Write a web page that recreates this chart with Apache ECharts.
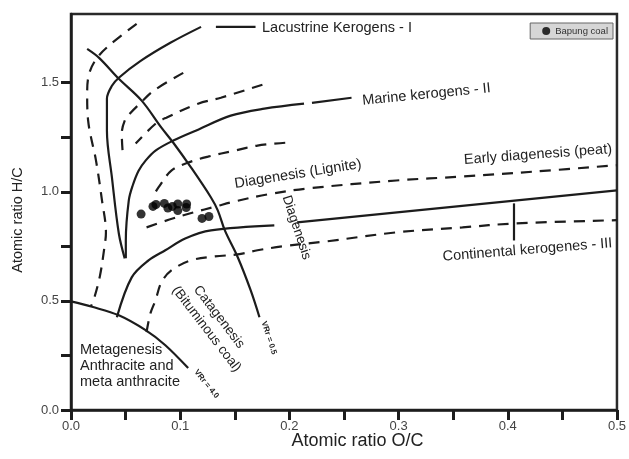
<!DOCTYPE html>
<html>
<head>
<meta charset="utf-8">
<script src="https://cdn.jsdelivr.net/npm/echarts@6/dist/echarts.min.js"></script>
<style>html,body{margin:0;padding:0;background:#fff}#c{width:629px;height:459px}</style>
</head>
<body>
<div id="c"></div>
<script>
// ---- tick values ----
const xTickValues = [0, 0.05, 0.1, 0.15, 0.2, 0.25, 0.3, 0.35, 0.4, 0.45, 0.5];
const xLabelValues = [0, 0.1, 0.2, 0.3, 0.4, 0.5];
const yTickValues = [0, 0.25, 0.5, 0.75, 1.0, 1.25, 1.5];
const yLabelValues = [0, 0.5, 1.0, 1.5];

// ---- Bapung coal samples (O/C, H/C) ----
const bapungOC = [0.0642, 0.0751, 0.0778, 0.0855, 0.0887, 0.0928, 0.0978, 0.0978, 0.1059, 0.1055, 0.1200, 0.1263];
const bapungHC = [0.898, 0.933, 0.942, 0.947, 0.926, 0.933, 0.944, 0.914, 0.944, 0.928, 0.878, 0.887];

// ---- evolution paths (solid) ----
const typeI = [[0.0492,0.695],[0.0438,0.809],[0.0375,1.065],[0.0329,1.280],[0.0329,1.372],[0.0329,1.427],[0.0375,1.486],[0.0438,1.523],[0.0638,1.600],[0.0910,1.683],[0.1191,1.756]];
const typeILeader = [[0.1327,1.756],[0.1690,1.756]];
const typeII = [[0.0502,0.695],[0.0502,0.777],[0.0529,0.960],[0.0565,1.029],[0.0619,1.097],[0.0683,1.143],[0.0774,1.189],[0.0937,1.235],[0.1164,1.285],[0.1463,1.349],[0.1771,1.381],[0.2134,1.404]];
const typeIILeader = [[0.2207,1.408],[0.2569,1.431]];
const typeIIIa = [[0.0420,0.425],[0.0556,0.608],[0.0710,0.686],[0.0864,0.732],[0.1046,0.786],[0.1282,0.823],[0.1862,0.846]];
const typeIIIb = [[0.2071,0.860],[0.5000,1.007]];
const typeIIIMark = [[0.4057,0.947],[0.4057,0.777]];
const vrr05 = [[0.0148,1.655],[0.0257,1.614],[0.0438,1.518],[0.0647,1.418],[0.0828,1.294],[0.0937,1.225],[0.1100,1.111],[0.1282,0.974],[0.1345,0.914],[0.1409,0.823],[0.1527,0.700],[0.1645,0.549],[0.1726,0.425]];
const vrr40 = [[0,0.498],[0.0193,0.473],[0.0438,0.434],[0.0683,0.366],[0.0864,0.297],[0.1073,0.192]];

// ---- iso-maturity / stage boundaries (dashed) ----
const dashLeft = [[0.0601,1.770],[0.0366,1.678],[0.0239,1.614],[0.0166,1.541],[0.0148,1.449],[0.0157,1.326],[0.0229,1.143],[0.0284,0.960],[0.0320,0.814],[0.0302,0.732],[0.0266,0.617],[0.0220,0.526],[0.0184,0.476]];
const dashB = [[0.1028,1.545],[0.0755,1.463],[0.0638,1.408],[0.0538,1.358],[0.0492,1.326],[0.0465,1.267],[0.0474,1.175]];
const dashC = [[0.1753,1.491],[0.1372,1.431],[0.1164,1.404],[0.0873,1.340],[0.0774,1.312],[0.0592,1.221]];
const dashLignite = [[0.1962,1.225],[0.1708,1.212],[0.1500,1.189],[0.1254,1.161],[0.1073,1.134],[0.0919,1.097],[0.0801,1.020],[0.0755,0.983]];
const dashPeat = [[0.0692,0.837],[0.0901,0.873],[0.1118,0.905],[0.1327,0.933],[0.1500,0.956],[0.1798,0.988],[0.2162,1.015],[0.2978,1.052],[0.3585,1.070],[0.4248,1.093],[0.5000,1.122]];
const dashContinental = [[0.0692,0.357],[0.0728,0.444],[0.0774,0.503],[0.0828,0.585],[0.0919,0.640],[0.1100,0.686],[0.1318,0.704],[0.1527,0.713],[0.1708,0.732],[0.1935,0.750],[0.2343,0.773],[0.2978,0.814],[0.3585,0.837],[0.4066,0.855],[0.5000,0.870]];

const INK = '#1c1c1c';
const FONT = "'Liberation Sans', Arial, sans-serif";

function solid(name, data) {
  return { name: name, type: 'line', data: data, smooth: 0.35, symbol: 'none', silent: true,
    lineStyle: { color: INK, width: 2.2, type: 'solid' }, z: 3 };
}
function dashed(name, data) {
  return { name: name, type: 'line', data: data, smooth: 0.35, symbol: 'none', silent: true,
    lineStyle: { color: INK, width: 2.2, type: [11, 8] }, z: 3 };
}
function label(text, x, y, rot, size, opts) {
  opts = opts || {};
  return { type: 'text', x: x, y: y, rotation: rot, z: 10,
    style: { text: text, fill: '#222', font: (opts.bold ? 'bold ' : '') + size + 'px ' + FONT,
      align: opts.align || 'center', verticalAlign: 'middle' } };
}

const chart = echarts.init(document.getElementById('c'), null, { renderer: 'canvas' });
chart.setOption({
  animation: false,
  backgroundColor: '#ffffff',
  grid: { left: 71, right: 6, top: 14, bottom: 49, show: true, borderColor: '#2a2a2a', borderWidth: 2.5, containLabel: false },
  legend: {
    data: ['Bapung coal'], right: 16, top: 23, orient: 'horizontal',
    backgroundColor: '#d6d6d6', borderColor: '#666', borderWidth: 1, borderRadius: 0,
    padding: [3, 5, 3, 12], itemWidth: 8, itemHeight: 8, icon: 'circle',
    textStyle: { fontSize: 9.5, color: '#333', fontFamily: FONT }
  },
  xAxis: {
    type: 'value', min: 0, max: 0.5, interval: 0.05,
    axisLine: { show: true, onZero: false, lineStyle: { color: INK, width: 2.5 } },
    axisTick: { show: true, length: 10, inside: false, customValues: xTickValues, lineStyle: { color: INK, width: 3 } },
    axisLabel: { customValues: xLabelValues, margin: 10, fontSize: 13, color: '#444', fontFamily: FONT,
      formatter: function (v) { return v.toFixed(1); } },
    splitLine: { show: false }
  },
  yAxis: {
    type: 'value', min: 0, max: 1.815, interval: 0.25,
    axisLine: { show: true, onZero: false, lineStyle: { color: INK, width: 2.5 } },
    axisTick: { show: true, length: 10, inside: false, customValues: yTickValues, lineStyle: { color: INK, width: 3 } },
    axisLabel: { customValues: yLabelValues, margin: 12, fontSize: 13, color: '#444', fontFamily: FONT,
      formatter: function (v) { return v.toFixed(1); } },
    splitLine: { show: false }
  },
  graphic: [
    label('Lacustrine Kerogens - I', 262, 27.5, 0, 14.5, { align: 'left' }),
    label('Marine kerogens - II', 426.5, 94.5, 0.098, 14.5),
    label('Early diagenesis (peat)', 538, 154.5, 0.073, 14.5),
    label('Diagenesis (Lignite)', 298, 174, 0.157, 14.5),
    label('Diagenesis', 296.5, 227.5, -1.25, 13.5),
    label('Continental kerogenes - III', 527.5, 250, 0.08, 14.5),
    label('Catagenesis', 219, 317, -0.92, 13.5),
    label('(Bituminous coal)', 206.5, 329, -0.915, 13.5),
    label('VRr = 0.5', 269, 338, -1.257, 8, { bold: true }),
    label('VRr = 4.0', 206.5, 384, -0.89, 8, { bold: true }),
    label('Metagenesis', 80, 350, 0, 14.5, { align: 'left' }),
    label('Anthracite and', 80, 366, 0, 14.5, { align: 'left' }),
    label('meta anthracite', 80, 382, 0, 14.5, { align: 'left' }),
    label('Atomic ratio O/C', 357.5, 441, 0, 18),
    label('Atomic ratio H/C', 18, 220, Math.PI / 2, 14.5)
  ],
  series: [
    solid('typeI', typeI),
    solid('typeILeader', typeILeader),
    solid('typeII', typeII),
    solid('typeIILeader', typeIILeader),
    solid('typeIIIa', typeIIIa),
    solid('typeIIIb', typeIIIb),
    solid('typeIIIMark', typeIIIMark),
    solid('vrr05', vrr05),
    solid('vrr40', vrr40),
    dashed('dashLeft', dashLeft),
    dashed('dashB', dashB),
    dashed('dashC', dashC),
    dashed('dashLignite', dashLignite),
    dashed('dashPeat', dashPeat),
    dashed('dashContinental', dashContinental),
    {
      name: 'Bapung coal', type: 'scatter', symbol: 'circle', symbolSize: 9, z: 5,
      itemStyle: { color: '#000' },
      data: bapungOC.map(function (x, i) { return [x, bapungHC[i]]; })
    }
  ]
});
</script>
</body>
</html>
